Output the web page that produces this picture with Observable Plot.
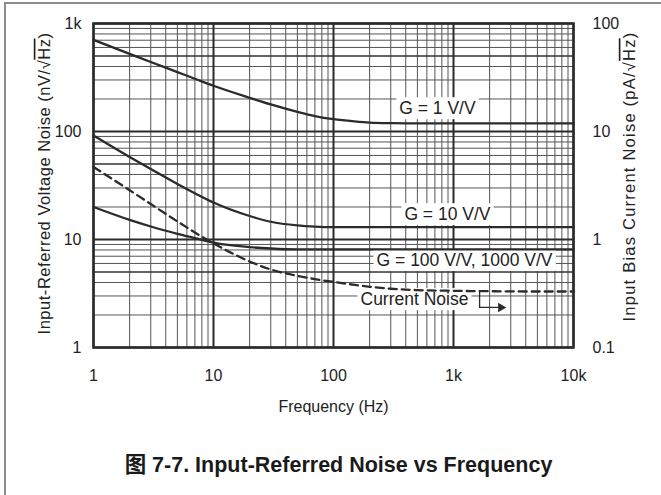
<!DOCTYPE html>
<html><head><meta charset="utf-8">
<script src="https://cdn.jsdelivr.net/npm/d3@7"></script>
<script src="https://cdn.jsdelivr.net/npm/@observablehq/plot@0.6"></script>
<style>
body{margin:0;background:#fff;}
#fig{position:relative;width:661px;height:495px;overflow:hidden;font-family:"Liberation Sans",Arial,"Noto Sans CJK SC",sans-serif;}
#frame{position:absolute;left:4px;top:2px;width:800px;height:700px;border-top:2px solid #8c8c8c;border-left:2px solid #8c8c8c;}
#chart{position:absolute;left:0;top:0;}
#caption{position:absolute;left:8px;width:661px;top:452px;line-height:26px;text-align:center;font-weight:bold;font-size:21.5px;color:#1a1a1a;font-family:"Liberation Sans",Arial,"Noto Sans CJK SC",sans-serif;}
</style></head>
<body>
<div id="fig"><div id="frame"></div><div id="chart"></div><div id="caption">图 7-7. Input-Referred Noise vs Frequency</div></div>
<script>
// ---- data ----
const freq      = [1, 2, 3, 5, 7, 10, 20, 30, 50, 70, 100, 150, 200, 300, 500, 1000, 2000, 5000, 10000];
const gain1     = [706, 524, 440, 355, 308, 265, 205, 178, 152, 139, 130, 124, 121, 119.5, 119, 119, 119, 119, 119];   // nV/√Hz
const gain10    = [92, 58.2, 44.9, 32.7, 26.8, 22.0, 16.5, 14.6, 13.5, 13.15, 13, 13, 13, 13, 13, 13, 13, 13, 13];    // nV/√Hz
const gain100   = [20, 15.2, 13.2, 11.3, 10.3, 9.35, 8.5, 8.25, 8.1, 8.1, 8.1, 8.1, 8.1, 8.1, 8.1, 8.1, 8.1, 8.1, 8.1];  // nV/√Hz
const currentPA = [4.7, 2.86, 2.13, 1.47, 1.16, 0.92, 0.626, 0.528, 0.46, 0.43, 0.405, 0.38, 0.365, 0.35, 0.34, 0.335, 0.332, 0.33, 0.33]; // pA/√Hz

const xTicks       = [1, 10, 100, 1000, 10000];
const xTickLabels  = ["1", "10", "100", "1k", "10k"];
const yTicks       = [1, 10, 100, 1000];
const yTickLabels  = ["1", "10", "100", "1k"];
const y2TickLabels = ["0.1", "1", "10", "100"];   // right axis, pA/√Hz
const pAtoLeft = 10;                               // right axis = left axis / 10

const curveLabels = [
  {text: "G = 1 V/V", f: 735, v: 163},
  {text: "G = 10 V/V", f: 890, v: 17},
  {text: "G = 100 V/V, 1000 V/V", f: 1236, v: 6.4},
  {text: "Current Noise", f: 473, v: 2.78}
];
const arrowPath = [{f: 1650, pA: 0.335}, {f: 1650, pA: 0.235}, {f: 2420, pA: 0.235}];
const arrowHead = [{f: 2480, pA: 0.235}];

const xTitle  = "Frequency (Hz)";
const yTitle  = "Input-Referred Voltage Noise (nV/√Hz)";
const y2Title = "Input Bias Current Noise (pA/√Hz)";

// ---- build ----
const rows = (vals) => freq.map((f, i) => ({f, v: vals[i]}));
const minorOf = (majors) => majors.slice(0, -1).flatMap(m => d3.range(2, 10).map(k => k * m));
const xMinor = minorOf(xTicks);
const yMinor = minorOf(yTicks);
const yFive = yMinor.filter((d, i) => i % 8 === 3);
const yOther = yMinor.filter((d, i) => i % 8 !== 3);
const ink = "#2b2b2b";

const chart = Plot.plot({
  width: 661,
  height: 432,
  marginLeft: 93,
  marginRight: 88,
  marginTop: 23,
  marginBottom: 85,
  style: {fontFamily: "'Liberation Sans', Arial, sans-serif", fontSize: "16px", color: "#222", background: "transparent"},
  x: {type: "log", domain: [1, 10000]},
  y: {type: "log", domain: [1, 1000]},
  marks: [
    Plot.ruleX(xMinor, {stroke: "#555", strokeWidth: 1}),
    Plot.ruleY(yOther, {stroke: "#555", strokeWidth: 1}),
    Plot.ruleY(yFive, {stroke: "#333", strokeWidth: 1.6}),
    Plot.ruleX(xTicks, {stroke: ink, strokeWidth: 2}),
    Plot.ruleY(yTicks, {stroke: ink, strokeWidth: 2}),
    Plot.frame({stroke: ink, strokeWidth: 2.5}),
    Plot.axisX(xTicks, {tickSize: 0, tickPadding: 22, tickFormat: d => xTickLabels[xTicks.indexOf(d)], label: null}),
    Plot.axisY(yTicks, {tickSize: 0, tickPadding: 12, tickFormat: d => yTickLabels[yTicks.indexOf(d)], label: null}),
    Plot.axisY(yTicks, {anchor: "right", tickSize: 0, tickPadding: 19, tickFormat: d => y2TickLabels[yTicks.indexOf(d)], label: null}),
    Plot.text([xTitle], {text: d => d, frameAnchor: "bottom", dy: 64, fill: "#222"}),
    Plot.text([yTitle], {text: d => d, frameAnchor: "left", textAnchor: "middle", dx: -49, dy: -2, rotate: -90, fill: "#222", fontSize: 16.5}),
    Plot.text([y2Title], {text: d => d, frameAnchor: "right", textAnchor: "middle", dx: 56, dy: -9, rotate: -90, fill: "#222", fontSize: 16.5}),
    Plot.text(curveLabels, {x: "f", y: "v", text: "text", fill: "#222", fontSize: 17.5}),
    Plot.line(rows(gain1), {x: "f", y: "v", stroke: ink, strokeWidth: 2.3, curve: "monotone-x"}),
    Plot.line(rows(gain10), {x: "f", y: "v", stroke: ink, strokeWidth: 2.3, curve: "monotone-x"}),
    Plot.line(rows(gain100), {x: "f", y: "v", stroke: ink, strokeWidth: 2.3, curve: "monotone-x"}),
    Plot.line(rows(currentPA), {x: "f", y: d => d.v * pAtoLeft, stroke: ink, strokeWidth: 2.3, strokeDasharray: "8,5", curve: "monotone-x"}),
    Plot.line(arrowPath, {x: "f", y: d => d.pA * pAtoLeft, stroke: ink, strokeWidth: 1.3}),
    Plot.dot(arrowHead, {x: "f", y: d => d.pA * pAtoLeft, symbol: "triangle", rotate: 90, r: 3.5, fill: ink, stroke: "none"})
  ]
});

document.getElementById("chart").appendChild(chart);
const ns = "http://www.w3.org/2000/svg";

// white boxes behind the curve labels
const labelTexts = new Set(curveLabels.map(d => d.text));
chart.querySelectorAll("text").forEach(t => {
  if (!labelTexts.has(t.textContent)) return;
  const bb = t.getBBox();
  const r = document.createElementNS(ns, "rect");
  r.setAttribute("x", bb.x - 3);
  r.setAttribute("y", bb.y - 1);
  r.setAttribute("width", bb.width + 6);
  r.setAttribute("height", bb.height + 2);
  r.setAttribute("fill", "white");
  const tr = t.getAttribute("transform");
  if (tr) r.setAttribute("transform", tr);
  t.parentNode.insertBefore(r, t);
});

// axis titles: stretch to the reference length, overline over "Hz"
const titleLen = new Map([[yTitle, 302], [y2Title, 290]]);
chart.querySelectorAll("text").forEach(t => {
  const s = t.textContent;
  if (!s.includes("√Hz")) return;
  const target = titleLen.get(s);
  const i = s.indexOf("√Hz") + 1;
  t.textContent = "";
  const a = document.createElementNS(ns, "tspan"); a.textContent = s.slice(0, i);
  const b = document.createElementNS(ns, "tspan"); b.textContent = "Hz"; b.setAttribute("text-decoration", "overline");
  const c = document.createElementNS(ns, "tspan"); c.textContent = s.slice(i + 2);
  t.append(a, b, c);
  if (target) {
    const w = t.getComputedTextLength();
    const extra = (target - w) / s.length;
    if (extra > 0) t.setAttribute("letter-spacing", extra.toFixed(2) + "px");
  }
});
</script>
</body></html>
